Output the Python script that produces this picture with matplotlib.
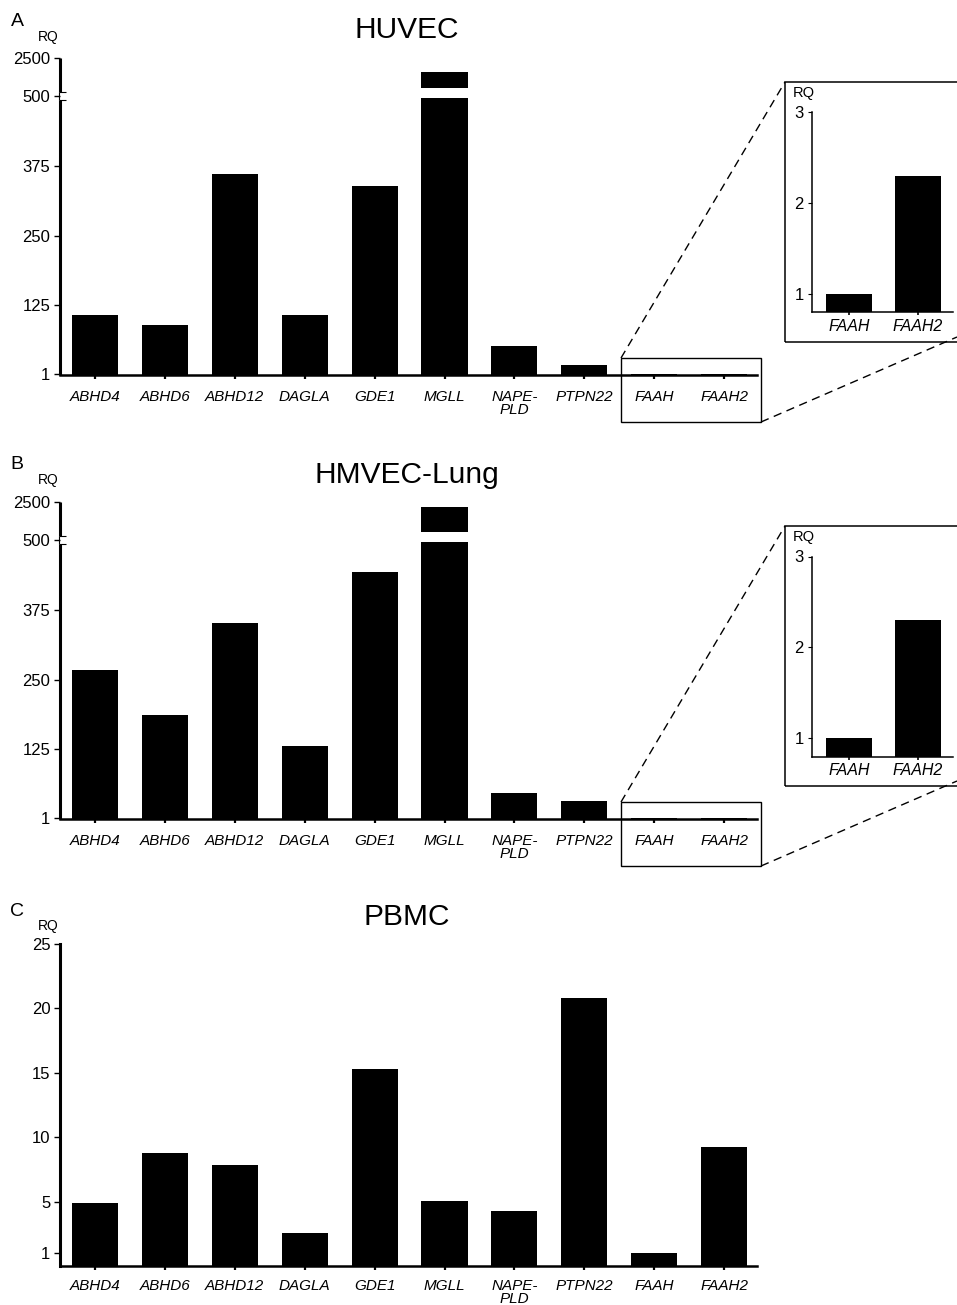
import numpy as np
import matplotlib
matplotlib.use('Agg')
import matplotlib.pyplot as plt
from matplotlib.patches import Rectangle
from matplotlib.lines import Line2D

plt.rcParams['font.family'] = ['Liberation Sans', 'DejaVu Sans']

# ── Data (RQ values) ─────────────────────────────────────────
GENES = ['ABHD4', 'ABHD6', 'ABHD12', 'DAGLA', 'GDE1', 'MGLL',
         'NAPE-\nPLD', 'PTPN22', 'FAAH', 'FAAH2']
HUVEC_RQ = [108, 90, 361, 108, 339, 1750, 52, 18, 1.0, 2.3]
HMVEC_RQ = [267, 186, 352, 131, 443, 2250, 46, 32, 1.0, 2.3]
PBMC_RQ = [4.9, 8.8, 7.85, 2.55, 15.3, 5.05, 4.3, 20.8, 1.0, 9.25]

BROKEN_TICKS = [1, 125, 250, 375, 500, 2500]
PBMC_TICKS = [1, 5, 10, 15, 20, 25]
INSET_TICKS = [1, 2, 3]
INSET_GENES = ['FAAH', 'FAAH2']

W, H = 957, 1305
fig = plt.figure(figsize=(W / 100, H / 100), dpi=100)


def box(left, top, right, bottom):
    return [left / W, 1 - bottom / H, (right - left) / W, (bottom - top) / H]


def fx(x):
    return x / W


def fy(y):
    return 1 - y / H


# broken axis: linear up to 500, compressed above
BREAK = 500
K = 0.0345


def fwd(y):
    y = np.asarray(y, float)
    return np.where(y <= BREAK, y, BREAK + (y - BREAK) * K)


def inv(s):
    s = np.asarray(s, float)
    return np.where(s <= BREAK, s, BREAK + (s - BREAK) / K)


def bar_panel(top, bottom, values, ticks, ymax, broken, xpad):
    ax = fig.add_axes(box(60, top, 757, bottom))
    x = np.arange(len(GENES))
    if broken:
        ax.set_yscale('function', functions=(fwd, inv))
    ax.bar(x, values, width=0.66, color='black', zorder=2)
    ax.set_xticks(x)
    ax.set_xticklabels(GENES, fontstyle='italic', fontsize=11,
                       linespacing=0.92)
    ax.set_yticks(ticks)
    ax.set_yticklabels([str(t) for t in ticks])
    ax.tick_params(axis='y', length=4, width=1, pad=3, labelsize=12)
    ax.tick_params(axis='x', length=3, width=1.6, pad=xpad)
    for s in ['top', 'right']:
        ax.spines[s].set_visible(False)
    ax.spines['bottom'].set_linewidth(1.8)
    ax.spines['left'].set_linewidth(2.2)

    if broken:
        ax.spines['left'].set_visible(False)
        i = GENES.index('MGLL')
        ax.add_patch(Rectangle((i - 0.36, 497), 0.72, 964 - 497,
                               facecolor='white', edgecolor='none', zorder=3))
        tr = ax.get_yaxis_transform()
        kw = dict(transform=tr, color='black', clip_on=False,
                  solid_capstyle='butt')
        ax.plot([0, 0], [0, 493], lw=2.2, **kw)
        ax.plot([0, 0], [732, ymax], lw=2.2, **kw)
        ax.plot([-0.002, -0.002], [493, 732], lw=0.8, **kw)
        ax.plot([-0.002, 0.008], [493, 493], lw=0.8, **kw)
        ax.plot([-0.002, 0.008], [732, 732], lw=0.8, **kw)

    ax.set_xlim(-0.5, 9.47)
    ax.set_ylim(0, ymax)
    return ax


def inset_panel(top, values):
    ax = fig.add_axes(box(812, top, 953, top + 200))
    ax.bar([0, 1], values, width=0.67, color='black')
    ax.set_xticks([0, 1])
    ax.set_xticklabels(INSET_GENES, fontstyle='italic', fontsize=11.5)
    ax.set_yticks(INSET_TICKS)
    ax.tick_params(axis='y', length=3, width=0.8, pad=3, labelsize=12)
    ax.tick_params(axis='x', length=2, width=1.2, pad=3)
    for s in ['top', 'right']:
        ax.spines[s].set_visible(False)
    ax.spines['bottom'].set_linewidth(1.1)
    ax.spines['left'].set_linewidth(1.1)
    ax.set_xlim(-0.54, 1.51)
    ax.set_ylim(0.8, 3)
    fig.text(fx(804), fy(top - 19), 'RQ', fontsize=10.5,
             ha='center', va='center')


def zoom_marks(dy):
    # frame around inset
    fig.add_artist(Rectangle((fx(785), fy(342 + dy)), fx(990) - fx(785),
                             fy(82 + dy) - fy(342 + dy),
                             transform=fig.transFigure, fill=False,
                             lw=1.1, ec='black'))
    # small box around FAAH / FAAH2
    fig.add_artist(Rectangle((fx(621), fy(422 + dy)), fx(761) - fx(621),
                             fy(358 + dy) - fy(422 + dy),
                             transform=fig.transFigure, fill=False,
                             lw=1.0, ec='black'))
    dash = dict(transform=fig.transFigure, color='black', lw=1.0,
                ls=(0, (6, 4)))
    fig.add_artist(Line2D([fx(621), fx(785)], [fy(358 + dy), fy(82 + dy)],
                          **dash))
    fig.add_artist(Line2D([fx(761), fx(957)], [fy(422 + dy), fy(337 + dy)],
                          **dash))


# ── Panel A: HUVEC ───────────────────────────────────────────
bar_panel(58, 375, HUVEC_RQ, BROKEN_TICKS, 2500, True, 8)
inset_panel(112, HUVEC_RQ[8:])
zoom_marks(0)
fig.text(fx(17), fy(21), 'A', fontsize=14, ha='center', va='center')
fig.text(fx(48), fy(37), 'RQ', fontsize=10, ha='center', va='center')
fig.text(fx(407), fy(30), 'HUVEC', fontsize=21.5, ha='center', va='center')

# ── Panel B: HMVEC-Lung ──────────────────────────────────────
bar_panel(502, 819, HMVEC_RQ, BROKEN_TICKS, 2500, True, 8)
inset_panel(556.5, HMVEC_RQ[8:])
zoom_marks(444)
fig.text(fx(17), fy(464), 'B', fontsize=14, ha='center', va='center')
fig.text(fx(48), fy(480), 'RQ', fontsize=10, ha='center', va='center')
fig.text(fx(407), fy(475), 'HMVEC-Lung', fontsize=21.5, ha='center',
         va='center')

# ── Panel C: PBMC ────────────────────────────────────────────
bar_panel(944, 1266, PBMC_RQ, PBMC_TICKS, 25, False, 6)
fig.text(fx(17), fy(911), 'C', fontsize=14, ha='center', va='center')
fig.text(fx(48), fy(926), 'RQ', fontsize=10, ha='center', va='center')
fig.text(fx(407), fy(917), 'PBMC', fontsize=21.5, ha='center', va='center')

fig.savefig('out.png', dpi=100)
